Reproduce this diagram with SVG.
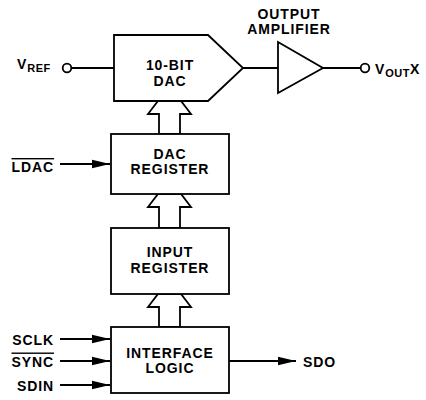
<svg xmlns="http://www.w3.org/2000/svg" width="426" height="400" viewBox="0 0 426 400">
<style>
.s{fill:#fff;stroke:#000;stroke-width:1.8;stroke-linejoin:miter}
.w{fill:none;stroke:#000;stroke-width:1.8}
.t{font-family:"Liberation Sans",Arial,Helvetica,sans-serif;font-weight:bold;font-size:14px;letter-spacing:0.9px;fill:#000}
.c{text-anchor:middle}
.e{text-anchor:end}
.sub{font-size:11px;letter-spacing:0.5px}
</style>
<defs>
<marker id="ah" markerUnits="userSpaceOnUse" markerWidth="18" markerHeight="10" refX="18" refY="5" orient="auto">
<path d="M0,0.8 L18,5 L0,9.2 z" fill="#000"/>
</marker>
</defs>
<rect width="426" height="400" fill="#fff"/>

<g id="connectors">
<line class="w" x1="71.5" y1="68" x2="114" y2="68"/>
<line class="w" x1="243" y1="68" x2="278" y2="68"/>
<line class="w" x1="323" y1="68" x2="360.5" y2="68"/>
<line class="w" x1="60" y1="164" x2="110" y2="164" marker-end="url(#ah)"/>
<line class="w" x1="60" y1="339" x2="110" y2="339" marker-end="url(#ah)"/>
<line class="w" x1="60" y1="361" x2="110" y2="361" marker-end="url(#ah)"/>
<line class="w" x1="60" y1="385" x2="110" y2="385" marker-end="url(#ah)"/>
<line class="w" x1="229" y1="361" x2="296" y2="361" marker-end="url(#ah)"/>
<polygon class="s" points="159,134 159,114 148,114 158,101 181,101 191,114 180,114 180,134"/>
<polygon class="s" points="159,228 159,207 148,207 158,194 181,194 191,207 180,207 180,228"/>
<polygon class="s" points="159,327 159,307 148,307 158,294 181,294 191,307 180,307 180,327"/>
</g>

<g id="vref">
<circle class="s" cx="67" cy="68" r="4.3"/>
<text class="t" x="17" y="68.5">V<tspan class="sub" dy="3.5">REF</tspan></text>
</g>

<g id="dac">
<polygon class="s" points="114,35 208,35 243,68 208,101 114,101"/>
<text class="t c" x="170" y="70">10-BIT</text>
<text class="t c" x="170" y="85.5">DAC</text>
</g>

<g id="amplifier">
<polygon class="s" points="278,42 323,68 278,93"/>
<text class="t c" x="289" y="18.5">OUTPUT</text>
<text class="t c" x="289" y="34">AMPLIFIER</text>
</g>

<g id="vout">
<circle class="s" cx="365" cy="68" r="4.3"/>
<text class="t" x="375" y="74">V<tspan class="sub" dy="3">OUT</tspan><tspan dy="-3">X</tspan></text>
</g>

<g id="dac-register">
<rect class="s" x="111" y="134" width="118" height="60"/>
<text class="t c" x="170" y="158.5">DAC</text>
<text class="t c" x="170" y="174">REGISTER</text>
</g>

<g id="input-register">
<rect class="s" x="111" y="228" width="118" height="66"/>
<text class="t c" x="170" y="257">INPUT</text>
<text class="t c" x="170" y="272.5">REGISTER</text>
</g>

<g id="interface-logic">
<rect class="s" x="111" y="327" width="118" height="66"/>
<text class="t c" x="170" y="357.5">INTERFACE</text>
<text class="t c" x="170" y="373">LOGIC</text>
</g>

<g id="ldac"><text class="t e" x="54" y="172" text-decoration="overline">LDAC</text></g>
<g id="sclk"><text class="t e" x="54" y="344.5">SCLK</text></g>
<g id="sync"><text class="t e" x="54" y="366.5" text-decoration="overline">SYNC</text></g>
<g id="sdin"><text class="t e" x="54" y="391">SDIN</text></g>
<g id="sdo"><text class="t" x="303" y="366.5">SDO</text></g>
</svg>
